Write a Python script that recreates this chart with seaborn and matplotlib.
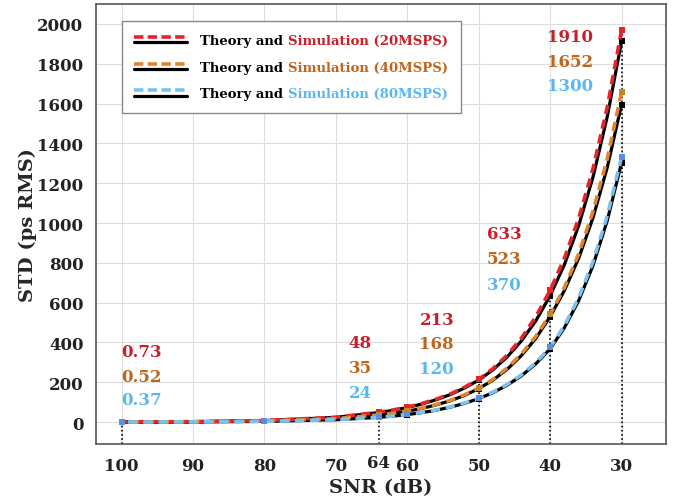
import numpy as np
import pandas as pd
import matplotlib
matplotlib.use("Agg")
import matplotlib.pyplot as plt
import seaborn as sns
from matplotlib.lines import Line2D
from matplotlib.legend_handler import HandlerBase

# SNR grid (dB) and curves
snr = [100, 90, 80, 70, 64, 62, 60, 58, 56, 54, 52, 50, 48, 46, 44, 42, 40, 38, 36, 34, 32, 30]

th_20 = [0.73, 2.34, 7.7, 23.9, 48, 59.3, 73.3, 90.5, 112, 138, 171, 211, 263, 328, 409, 509, 635, 791, 987, 1230, 1534, 1912]
sim_20 = [0.75, 2.4, 7.9, 24.4, 49.5, 61, 75.5, 93, 115, 141, 175, 215, 269, 337, 423, 530, 662, 823, 1024, 1273, 1582, 1968]
th_40 = [0.52, 1.67, 5.39, 17.3, 35, 43.8, 54.8, 68.6, 86, 107, 134, 168, 211, 266, 335, 421, 530, 661, 823, 1026, 1279, 1595]
sim_40 = [0.53, 1.7, 5.5, 17.6, 36, 45, 56, 70, 88, 109, 137, 171, 215, 272, 343, 431, 541, 676, 845, 1058, 1323, 1657]
th_80 = [0.37, 1.18, 3.76, 12.0, 24, 30.1, 37.8, 47.5, 59.6, 74.9, 94, 118, 148, 186, 233, 293, 368, 474, 610, 786, 1012, 1303]
sim_80 = [0.38, 1.2, 3.8, 12.2, 24.5, 30.7, 38.5, 48.4, 60.8, 76.4, 96, 120, 151, 190, 238, 299, 375, 484, 624, 805, 1036, 1332]

marker_snr = [100, 80, 64, 60, 50, 40, 30]
guide_snr = [100, 64, 50, 40, 30]

rates = ["20MSPS", "40MSPS", "80MSPS"]
value_labels = {
    "20MSPS": ["0.73", "48", "213", "633", "1910"],
    "40MSPS": ["0.52", "35", "168", "523", "1652"],
    "80MSPS": ["0.37", "24", "120", "370", "1300"],
}
xtick_vals = [100, 90, 80, 70, 60, 50, 40, 30]
extra_tick = 64

line_col = {"20MSPS": "#E4262C", "40MSPS": "#E0852A", "80MSPS": "#7CC0F0"}
mark_col = {"20MSPS": "#E8242A", "40MSPS": "#C8841E", "80MSPS": "#5B8DE0"}
text_col = {"20MSPS": "#C8202A", "40MSPS": "#C0661A", "80MSPS": "#5AB8F0"}

df = pd.DataFrame({"snr": snr,
                   "th_20MSPS": th_20, "sim_20MSPS": sim_20,
                   "th_40MSPS": th_40, "sim_40MSPS": sim_40,
                   "th_80MSPS": th_80, "sim_80MSPS": sim_80})
pts = df[df["snr"].isin(marker_snr)]

sns.set_theme(style="whitegrid")
plt.rcParams["font.family"] = ["DejaVu Serif"]
plt.rcParams["font.weight"] = "bold"

fig, ax = plt.subplots(figsize=(6.85, 5.02), dpi=100)
fig.subplots_adjust(left=0.140, right=0.972, bottom=0.1135, top=0.990)

ylo = -110
# dotted guide lines
g = df[df["snr"].isin(guide_snr)]
ax.vlines(g["snr"], ylo, g["sim_20MSPS"], colors="black", linestyles=(0, (1.0, 1.5)),
          lw=1.2, zorder=2)

for r in rates:
    sns.lineplot(data=df, x="snr", y="th_" + r, ax=ax, color="black", lw=2.3,
                 zorder=3, legend=False)
for r in rates:
    sns.scatterplot(data=pts, x="snr", y="th_" + r, ax=ax, color="black", marker="s",
                    s=22, linewidth=0, zorder=4, legend=False)
for r in rates:
    sns.lineplot(data=df, x="snr", y="sim_" + r, ax=ax, color=line_col[r], lw=2.6,
                 dashes=False, zorder=5, legend=False).lines[-1].set_dashes((2.6, 1.6))
    sns.scatterplot(data=pts, x="snr", y="sim_" + r, ax=ax, color=mark_col[r], marker="s",
                    s=22, linewidth=0, zorder=6, legend=False)

# value labels
label_x = [100.0, 68.2, 58.3, 48.9, 40.4]
label_y = [[357, 231, 112], [402, 276, 151], [514, 397, 271], [945, 824, 693], [1938, 1811, 1690]]
for i, lx in enumerate(label_x):
    for j, r in enumerate(rates):
        ax.text(lx, label_y[i][j], value_labels[r][i], color=text_col[r], fontsize=12,
                fontweight="bold", ha="left", va="center", zorder=7)

ax.set_xlim(103.6, 23.8)
ax.set_ylim(ylo, 2100)
ax.set_xticks(xtick_vals)
ax.set_yticks(np.arange(0, 2001, 200))
ax.tick_params(direction="in", length=4, labelsize=12, colors="#222222",
               labelcolor="#222222", width=0.8)
ax.tick_params(axis="x", pad=9)
ax.tick_params(axis="y", pad=9)
for lab in ax.get_xticklabels() + ax.get_yticklabels():
    lab.set_fontweight("bold")
ax.text(extra_tick, -0.041, str(extra_tick), transform=ax.get_xaxis_transform(),
        ha="center", va="center", fontsize=12, fontweight="bold", color="#222222")
ax.grid(True, color="#DDDDDD", lw=0.8)
for s in ax.spines.values():
    s.set_color("#555555")
    s.set_linewidth(1.2)
ax.set_xlabel("SNR (dB)", fontsize=14, fontweight="bold", labelpad=3)
ax.set_ylabel("STD (ps RMS)", fontsize=14, fontweight="bold", labelpad=0)


class DoubleLine(HandlerBase):
    def create_artists(self, legend, orig, xd, yd, w, h, fontsize, trans):
        c = orig.get_color()
        top = Line2D([xd, xd + w], [yd + h * 0.75] * 2, color=c, lw=2.6,
                     dashes=(2.6, 1.2), transform=trans)
        bot = Line2D([xd, xd + w], [yd + h * 0.2] * 2, color="black", lw=2.3,
                     transform=trans)
        return [top, bot]


handles = [Line2D([], [], color=line_col[r]) for r in rates]
labels = ["Theory and Simulation (%s)" % r for r in rates]
leg = ax.legend(handles, labels, handler_map={Line2D: DoubleLine()}, loc="upper left",
                bbox_to_anchor=(0.0456, 0.961), borderaxespad=0, handlelength=4.0,
                handletextpad=1.0, labelspacing=1.05, borderpad=0.95, fancybox=False,
                framealpha=1, edgecolor="#888888", prop={"weight": "bold", "size": 9.5})
leg.get_frame().set_linewidth(1.0)
leg.set_zorder(10)
for t, r in zip(leg.get_texts(), rates):
    t.set_alpha(0)
    a = ax.annotate("Theory and ", xy=(0, 0), xycoords=t, ha="left", va="bottom",
                    fontsize=9.5, fontweight="bold", color="black", zorder=11)
    ax.annotate("Simulation (%s)" % r, xy=(1, 0), xycoords=a, ha="left", va="bottom",
                fontsize=9.5, fontweight="bold", color=text_col[r], zorder=11)

fig.savefig("out.png", dpi=100)
